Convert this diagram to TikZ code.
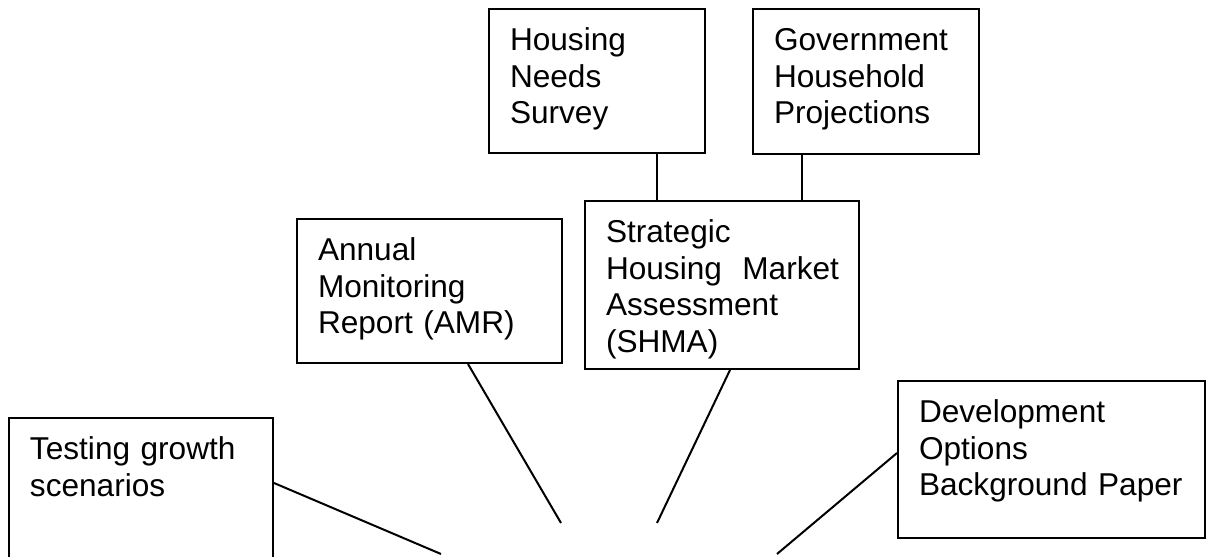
\documentclass[tikz,border=0pt]{standalone}
\usepackage{fontspec}
\setmainfont{Liberation Sans}
\usepackage{tikz}

\begin{document}
\begin{tikzpicture}[x=0.5pt, y=-0.5pt,
    doc/.style={draw, line width=1pt, anchor=north west, align=left,
        inner xsep=10.5pt, inner ysep=0pt, text height=20.75pt,
        font=\fontsize{15.8pt}{18.35pt}\selectfont},
    link/.style={line width=1pt}]
    \useasboundingbox (0,0) rectangle (1206,557);

    \node[doc, text width=87pt, text depth=51.25pt] (hns) at (488,8) {Housing\\Needs\\Survey};
    \node[doc, text width=92pt, text depth=51.75pt] (ghp) at (752,8) {Government\\Household\\Projections};
    \node[doc, text width=111.5pt, text depth=51.25pt] (amr) at (296,218) {Annual\\Monitoring\\Report (AMR)};
    \node[doc, text width=116pt, text depth=63.25pt] (shma) at (584,200) {Strategic\\\mbox{Housing\hspace{5pt} Market}\\Assessment\\(SHMA)};
    \node[doc, text width=111pt, text depth=64.25pt] (tgs) at (8,417) {Testing growth\\scenarios};
    \node[doc, text width=132.5pt, text depth=57.75pt] (dobp) at (897,380) {Development\\Options\\Background Paper};

    \coordinate (hns-foot) at ([xshift=30pt]hns.south);
    \coordinate (ghp-foot) at ([xshift=-32pt]ghp.south);
    \draw[link] (hns-foot) -- (hns-foot |- shma.north);
    \draw[link] (ghp-foot) -- (ghp-foot |- shma.north);

    \coordinate (amr-end) at (561,523);
    \coordinate (shma-end) at (657,523);
    \coordinate (tgs-end) at (441,554);
    \coordinate (dobp-end) at (777,554);
    \draw[link] ([xshift=19.25pt]amr.south) -- (amr-end);
    \draw[link] ([xshift=4pt]shma.south) -- (shma-end);
    \draw[link] ([yshift=-33pt]tgs.north east) -- (tgs-end);
    \draw[link] ([yshift=-36.5pt]dobp.north west) -- (dobp-end);
\end{tikzpicture}
\end{document}
